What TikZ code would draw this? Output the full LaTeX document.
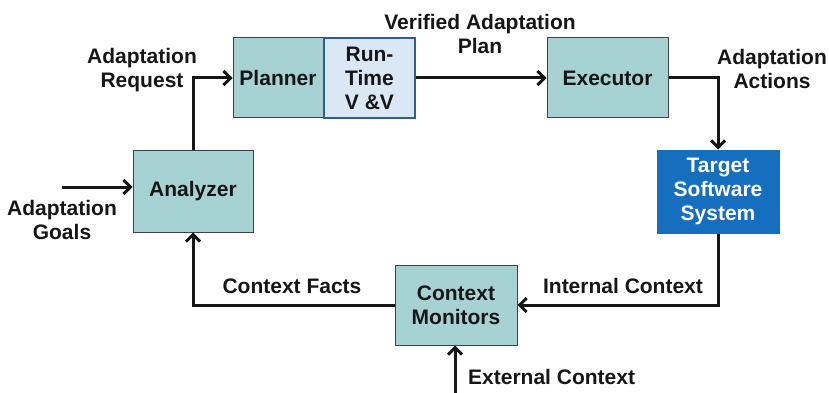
\documentclass[tikz,border=0pt]{standalone}
\usepackage{fontspec}
\setmainfont{Liberation Sans}
\usetikzlibrary{arrows.meta, positioning}
\definecolor{loopTeal}{RGB}{166,210,211}
\definecolor{loopEdge}{RGB}{60,66,70}
\definecolor{vvFill}{RGB}{218,231,244}
\definecolor{vvEdge}{RGB}{46,94,152}
\definecolor{sysBlue}{RGB}{22,110,190}
\definecolor{labelGray}{RGB}{22,22,22}

\begin{document}
\begin{tikzpicture}[x=1pt, y=-1pt,
    box/.style={draw=loopEdge, line width=1pt, fill=loopTeal, align=center, inner sep=0pt,
      text=labelGray, font=\bfseries\fontsize{21}{24}\selectfont},
    flow/.style={line width=3pt, draw=labelGray, -{Straight Barb[length=7pt, width=14pt]}},
    tag/.style={align=center, inner sep=0pt, text=labelGray, font=\bfseries\fontsize{21}{24}\selectfont}]
        \useasboundingbox (0,0) rectangle (829,393);
        % the loop boxes
        \node[box, minimum width=90pt, minimum height=80pt] (planner) at (278,78) {Planner};
        \node[box, draw=vvEdge, line width=2.5pt, fill=vvFill, minimum width=91pt, minimum height=80pt] (vv) at (369.5,78) {Run-\\Time\\V \&V};
        \node[box, minimum width=121pt, minimum height=80pt] (executor) at (607.5,78) {Executor};
        \node[box, draw=sysBlue, fill=sysBlue, text=white, minimum width=122pt, minimum height=83pt] (target) at (718,191.5) {Target\\Software\\System};
        \node[box, minimum width=120pt, minimum height=82pt] (analyzer) at (193,191) {Analyzer};
        \node[box, minimum width=122pt, minimum height=80pt] (monitors) at (456,305) {Context\\Monitors};
        % free ends
        \coordinate (goalsIn) at (62,187);
        \coordinate (extIn) at (455,393);
        % connectors
        \draw[flow] (goalsIn) -- (goalsIn -| analyzer.west);
        \draw[flow] (analyzer.north) |- (planner.west);
        \draw[flow] (vv.east) -- (executor.west);
        \draw[flow] (executor.east) -| (target.north);
        \draw[flow] (target.south) |- (monitors.east);
        \draw[flow] (monitors.west) -| (analyzer.south);
        \draw[flow] (extIn) -- (extIn |- monitors.south);
        % labels
        \node[tag] (requestLbl) at (142,70) {Adaptation\\Request};
        \node[tag] (planLbl) at (480,34) {Verified Adaptation\\Plan};
        \node[tag] (actionsLbl) at (772,69) {Adaptation\\Actions};
        \node[tag] (internalLbl) at (623,286) {Internal Context};
        \node[tag] (factsLbl) at (292,286) {Context Facts};
        \node[tag, anchor=west] (externalLbl) at (468,377) {External Context};
        \node[tag] (goalsLbl) at (62,220) {Adaptation\\Goals};
      \end{tikzpicture}
\end{document}
